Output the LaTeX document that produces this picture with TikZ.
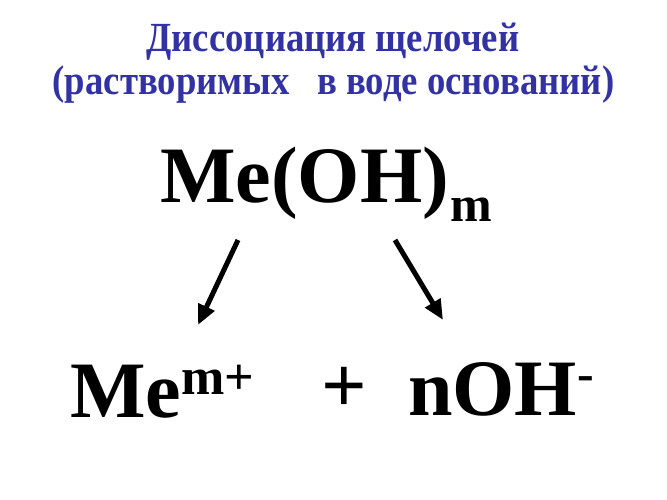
\documentclass[tikz,border=0pt]{standalone}
\usepackage{fontspec}
\setmainfont{Liberation Serif}
\usetikzlibrary{arrows.meta}
\definecolor{titleblue}{RGB}{50,50,165}
\newcommand{\titletext}[1]{\scalebox{1.02}[1.15]{#1}}
\tikzset{
  title/.style={font=\fontsize{36}{36}\selectfont\bfseries, text=titleblue, inner sep=0pt},
  formula/.style={font=\fontsize{80}{80}\selectfont\bfseries, inner sep=0pt},
  arr/.style={line width=5pt, -{Triangle[length=20pt,width=17pt]}}
}
\begin{document}
\begin{tikzpicture}[x=1pt,y=1pt]
\useasboundingbox[fill=white] (0,0) rectangle (667,500);
\node[title, anchor=base] (t1) at (333,448) {\titletext{Диссоциация щелочей}};
\node[title, anchor=base] (t2) at (333.5,405) {\titletext{(растворимых \ \ в воде оснований)}};
\node[formula, anchor=base west] (top) at (160,297) {Me(OH)\kern2pt\raisebox{-19pt}{\fontsize{50}{50}\selectfont m}};
\node[formula, anchor=base west] (me) at (70,82) {Me\raisebox{23pt}{\fontsize{52}{52}\selectfont m+}};
\node[formula, anchor=center] (plus) at (344,110) {+};
\node[formula, anchor=base west] (oh) at (408,84) {nOH\raisebox{25pt}{\fontsize{50}{50}\selectfont -}};
\coordinate (a1s) at (238,260);
\coordinate (a1e) at (198,175);
\coordinate (a2s) at (395,260);
\coordinate (a2e) at (443,180);
\draw[arr] (a1s) -- (a1e);
\draw[arr] (a2s) -- (a2e);
\end{tikzpicture}
\end{document}
